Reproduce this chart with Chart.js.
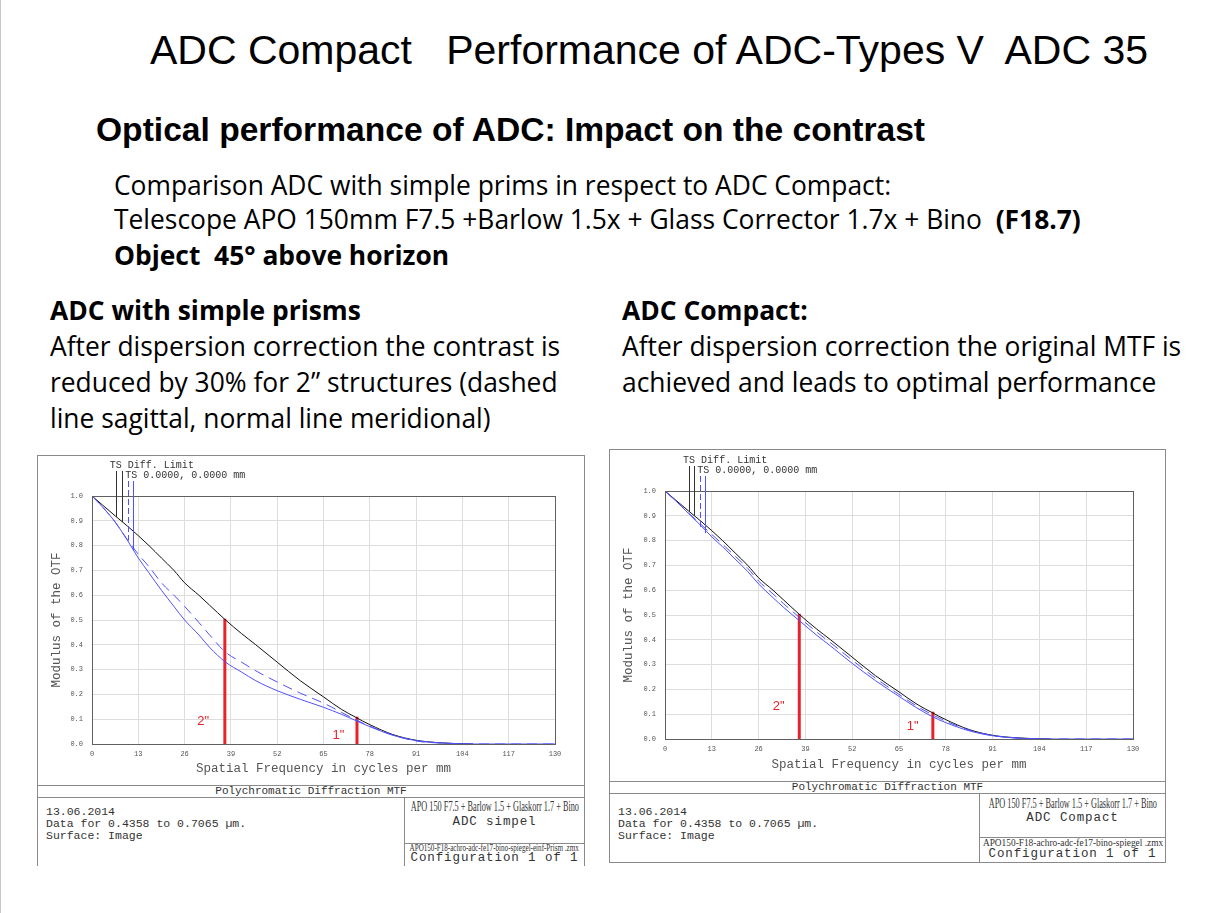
<!DOCTYPE html>
<html>
<head>
<meta charset="utf-8">
<script src="https://cdn.jsdelivr.net/npm/chart.js@4.4.1/dist/chart.umd.min.js"></script>
<style>
  body { margin: 0; width: 1216px; height: 913px; position: relative; background: #fff; overflow: hidden;
         font-family: "Liberation Sans", Arial, sans-serif; color: #000; }
  .pg { position: absolute; left: 0; top: 0; width: 1px; height: 913px; background: #c8c8c8; }
  .abs { position: absolute; white-space: pre; }
  .title { font-size: 41px; line-height: 40px; }
  .sub { font-size: 33.6px; line-height: 32px; font-weight: bold; }
  .body { font-family: "Open Sans", sans-serif; font-size: 26.4px; line-height: 26.4px; }
  .b { font-weight: bold; }
  .frame { position: absolute; border: 1px solid #8a8a8a; box-sizing: border-box; }
  .hl { position: absolute; height: 1px; background: #8a8a8a; }
  .vl { position: absolute; width: 1px; background: #8a8a8a; }
  .mono { position: absolute; font-family: "Liberation Mono", monospace; font-size: 11.5px; line-height: 12px; color: #333; white-space: pre; }
  .cfg { font-size: 12.5px; letter-spacing: 0.9px; }
  .narrow { position: absolute; display: flex; justify-content: center; white-space: pre; color: #333; }
  .narrow span { display: inline-block; font-family: "Liberation Serif", serif; transform-origin: center; }
  canvas { position: absolute; }
</style>
</head>
<body>
<div class="pg"></div>

<div class="abs title" style="left:150px; top:30px;">ADC Compact   Performance of ADC-Types V  ADC 35</div>
<div class="abs sub" style="left:96px; top:114px;">Optical performance of ADC: Impact on the contrast</div>
<div class="abs body" style="left:114px; top:172px;">Comparison ADC with simple prims in respect to ADC Compact:</div>
<div class="abs body" style="left:114px; top:206px;">Telescope APO 150mm F7.5 +Barlow 1.5x + Glass Corrector 1.7x + Bino  <span class="b">(F18.7)</span></div>
<div class="abs body b" style="left:114px; top:242px;">Object  45° above horizon</div>

<div class="abs body b" style="left:50px; top:297px;">ADC with simple prisms</div>
<div class="abs body" style="left:50px; top:333px;">After dispersion correction the contrast is</div>
<div class="abs body" style="left:50px; top:369px;">reduced by 30% for 2” structures (dashed</div>
<div class="abs body" style="left:50px; top:405px;">line sagittal, normal line meridional)</div>

<div class="abs body b" style="left:622px; top:297px;">ADC Compact:</div>
<div class="abs body" style="left:622px; top:333px;">After dispersion correction the original MTF is</div>
<div class="abs body" style="left:622px; top:369px;">achieved and leads to optimal performance</div>

<!-- left plot frame -->
<div class="frame" style="left:37px; top:455px; width:548px; height:411px; border-bottom:none;"></div>
<div class="hl" style="left:37px; top:785px; width:548px;"></div>
<div class="hl" style="left:37px; top:797px; width:548px;"></div>
<div class="vl" style="left:404px; top:797px; height:69px;"></div>
<div class="hl" style="left:404px; top:843px; width:181px;"></div>
<div class="mono" style="left:37px; top:785px; width:548px; text-align:center; font-size:11px;">Polychromatic Diffraction MTF</div>
<div class="mono" style="left:46px; top:806px;">13.06.2014
Data for 0.4358 to 0.7065 µm.
Surface: Image</div>
<div class="narrow" style="left:404px; top:798px; width:181px; font-size:15px;"><span style="transform:scaleX(0.55);">APO 150 F7.5 + Barlow 1.5 + Glaskorr 1.7 + Bino</span></div>
<div class="mono cfg" style="left:404px; top:816px; width:181px; text-align:center;">ADC simpel</div>
<div class="narrow" style="left:404px; top:842px; width:181px; font-size:10px;"><span style="transform:scaleX(0.71);">APO150-F18-achro-adc-fe17-bino-spiegel-einf-Prism .zmx</span></div>
<div class="mono cfg" style="left:404px; top:852px; width:181px; text-align:center;">Configuration 1 of 1</div>

<!-- right plot frame -->
<div class="frame" style="left:609px; top:449px; width:557px; height:414px;"></div>
<div class="hl" style="left:609px; top:781px; width:557px;"></div>
<div class="hl" style="left:609px; top:793px; width:557px;"></div>
<div class="vl" style="left:979px; top:793px; height:69px;"></div>
<div class="hl" style="left:979px; top:837px; width:187px;"></div>
<div class="mono" style="left:609px; top:781px; width:557px; text-align:center; font-size:11px;">Polychromatic Diffraction MTF</div>
<div class="mono" style="left:618px; top:806px;">13.06.2014
Data for 0.4358 to 0.7065 µm.
Surface: Image</div>
<div class="narrow" style="left:979px; top:795px; width:187px; font-size:15px;"><span style="transform:scaleX(0.55);">APO 150 F7.5 + Barlow 1.5 + Glaskorr 1.7 + Bino</span></div>
<div class="mono cfg" style="left:979px; top:812px; width:187px; text-align:center;">ADC Compact</div>
<div class="narrow" style="left:979px; top:836px; width:187px; font-size:11px;"><span style="transform:scaleX(0.85);">APO150-F18-achro-adc-fe17-bino-spiegel .zmx</span></div>
<div class="mono cfg" style="left:979px; top:848px; width:187px; text-align:center;">Configuration 1 of 1</div>

<canvas id="mtfSimple" width="545" height="329" style="left:38px; top:456px;"></canvas>
<canvas id="mtfCompact" width="554" height="331" style="left:610px; top:450px;"></canvas>

<script>
// spatial frequency (cycles/mm) sample points shared by all curves
const freqs = [0, 3, 6.5, 10, 13, 16, 19.5, 23, 26, 30, 33, 37.5, 42, 46, 52, 58.5, 65, 70, 74, 78, 84.5, 91, 97.5, 104, 107, 117, 130];

// diffraction limit (same in both plots)
const diffLimit = [1.0, 0.963, 0.92, 0.878, 0.84, 0.80, 0.75, 0.70, 0.65, 0.60, 0.56, 0.50, 0.445, 0.40, 0.33, 0.255, 0.19, 0.14, 0.108, 0.078, 0.038, 0.015, 0.005, 0.001, 0, null, null];

// ADC with simple prisms
const simpleTan = [1.0, 0.955, 0.895, 0.82, 0.75, 0.69, 0.62, 0.555, 0.50, 0.44, 0.39, 0.33, 0.29, 0.255, 0.215, 0.18, 0.148, 0.12, 0.095, 0.07, 0.035, 0.014, 0.005, 0.001, 0, 0, 0];
const simpleSag = [1.0, 0.955, 0.895, 0.822, 0.765, 0.715, 0.65, 0.60, 0.555, 0.49, 0.44, 0.37, 0.33, 0.295, 0.25, 0.205, 0.165, 0.128, 0.098, 0.072, 0.036, 0.012, 0.004, 0.001, 0, 0, 0];

// ADC Compact
const compactTan = [1.0, 0.96, 0.91, 0.86, 0.815, 0.775, 0.725, 0.675, 0.625, 0.57, 0.53, 0.475, 0.42, 0.375, 0.305, 0.235, 0.172, 0.125, 0.092, 0.066, 0.033, 0.013, 0.004, 0.001, 0, 0, 0];
const compactSag = [1.0, 0.96, 0.912, 0.865, 0.825, 0.785, 0.737, 0.688, 0.637, 0.585, 0.545, 0.488, 0.433, 0.388, 0.318, 0.245, 0.18, 0.132, 0.10, 0.072, 0.036, 0.014, 0.004, 0.001, 0, 0, 0];

// red markers for 2" and 1" structures
const structLabels = ['2"', '1"'];
const structFreqs = [37.3, 74.4];
const structTops = [0.505, 0.11];
const simpleLabelPos = [[31.2, 0.09], [69.2, 0.035]];
const compactLabelPos = [[31.6, 0.13], [68.8, 0.05]];

// legend pointer lines: diff limit T, S, then T, S of the field
const simplePointerFreqs = [6.7, 8.5, 10.0, 11.6];
const simplePointerEnds = [0.915, 0.895, 0.82, 0.78];
const compactPointerFreqs = [6.7, 8.1, 9.7, 11.1];
const compactPointerEnds = [0.915, 0.9, 0.855, 0.83];

const freqTicks = [0, 13, 26, 39, 52, 65, 78, 91, 104, 117, 130];
const mtfTicks = [0, 0.1, 0.2, 0.3, 0.4, 0.5, 0.6, 0.7, 0.8, 0.9, 1.0];

const BLUE = 'rgb(80, 80, 255)';
const RED = '#e8222a';

function pts(ys) {
    return freqs.map((f, i) => ({ x: f, y: ys[i] }));
}

const zemaxPlugin = {
    id: 'zemax',
    afterDatasetsDraw(chart, args, o) {
        const ctx = chart.ctx;
        const a = chart.chartArea;
        const xs = chart.scales.x, ys = chart.scales.y;
        ctx.save();
        // plot frame
        ctx.strokeStyle = '#606060';
        ctx.lineWidth = 1;
        ctx.strokeRect(Math.round(a.left) + 0.5, Math.round(a.top) + 0.5, Math.round(a.right - a.left), Math.round(a.bottom - a.top));

        // pointer lines
        const colors = ['#333', '#333', BLUE, BLUE];
        const dashes = [[], [], [6, 3], []];
        const tops = [-25, -25, -15, -15];
        o.pointerFreqs.forEach((f, i) => {
            const px = Math.round(xs.getPixelForValue(f)) + 0.5;
            ctx.strokeStyle = colors[i];
            ctx.setLineDash(dashes[i]);
            ctx.beginPath();
            ctx.moveTo(px, a.top + tops[i]);
            ctx.lineTo(px, ys.getPixelForValue(o.pointerEnds[i]));
            ctx.stroke();
        });
        ctx.setLineDash([]);
        ctx.fillStyle = '#333';
        ctx.font = '10px "Liberation Mono", monospace';
        ctx.textBaseline = 'middle';
        const p0 = xs.getPixelForValue(o.pointerFreqs[0]);
        const p1 = xs.getPixelForValue(o.pointerFreqs[1]);
        ctx.fillText('TS Diff. Limit', p0 - 6, a.top - 31);
        ctx.fillText('TS 0.0000, 0.0000 mm', p1 + 3, a.top - 21);

        // structure labels
        ctx.fillStyle = RED;
        ctx.font = '13px "Liberation Sans", Arial, sans-serif';
        ctx.textAlign = 'center';
        o.labelPos.forEach((p, i) => {
            ctx.fillText(structLabels[i], xs.getPixelForValue(p[0]), ys.getPixelForValue(p[1]));
        });
        ctx.restore();
    }
};

function makeChart(id, tan, sag, yAxisWidth, xAxisHeight, pad, labelPos, pointerFreqs, pointerEnds) {
    const datasets = [
        { data: pts(tan), borderColor: BLUE, borderWidth: 1 },
        { data: pts(sag), borderColor: BLUE, borderWidth: 1, borderDash: [10, 6] },
        { data: pts(diffLimit), borderColor: '#111', borderWidth: 1 }
    ];
    structFreqs.forEach((f, i) => {
        datasets.push({
            data: [{ x: f, y: 0 }, { x: f, y: structTops[i] }],
            borderColor: RED, borderWidth: 3, tension: 0
        });
    });
    return new Chart(document.getElementById(id), {
        type: 'line',
        data: { datasets: datasets },
        plugins: [zemaxPlugin],
        options: {
            responsive: false,
            animation: false,
            layout: { padding: pad },
            elements: {
                point: { radius: 0 },
                line: { tension: 0.4, cubicInterpolationMode: 'monotone' }
            },
            plugins: {
                legend: { display: false },
                tooltip: { enabled: false },
                zemax: { labelPos: labelPos, pointerFreqs: pointerFreqs, pointerEnds: pointerEnds }
            },
            scales: {
                x: {
                    type: 'linear', min: 0, max: 130,
                    afterBuildTicks: s => { s.ticks = freqTicks.map(v => ({ value: v })); },
                    afterFit: s => { s.height = xAxisHeight; },
                    grid: { color: '#dddddd', drawTicks: false },
                    border: { display: false },
                    ticks: { color: '#555', padding: 6, maxRotation: 0, autoSkip: false,
                             font: { family: 'Liberation Mono', size: 7 } },
                    title: { display: true, text: 'Spatial Frequency in cycles per mm', color: '#555',
                             padding: { top: 0, bottom: 9 }, font: { family: 'Liberation Mono', size: 12.5 } }
                },
                y: {
                    type: 'linear', min: 0, max: 1,
                    afterBuildTicks: s => { s.ticks = mtfTicks.map(v => ({ value: v })); },
                    afterFit: s => { s.width = yAxisWidth; },
                    grid: { color: '#dddddd', drawTicks: false },
                    border: { display: false },
                    ticks: { color: '#555', padding: 9, autoSkip: false,
                             callback: v => v.toFixed(1),
                             font: { family: 'Liberation Mono', size: 7 } },
                    title: { display: true, text: 'Modulus of the OTF', color: '#555',
                             padding: { top: 11, bottom: 0 }, font: { family: 'Liberation Mono', size: 12.5 } }
                }
            }
        }
    });
}

makeChart('mtfSimple', simpleTan, simpleSag, 54, 41, { left: 0, top: 40, right: 28, bottom: 0 },
          simpleLabelPos, simplePointerFreqs, simplePointerEnds);
makeChart('mtfCompact', compactTan, compactSag, 55, 42, { left: 0, top: 41, right: 31, bottom: 0 },
          compactLabelPos, compactPointerFreqs, compactPointerEnds);
</script>
</body>
</html>
